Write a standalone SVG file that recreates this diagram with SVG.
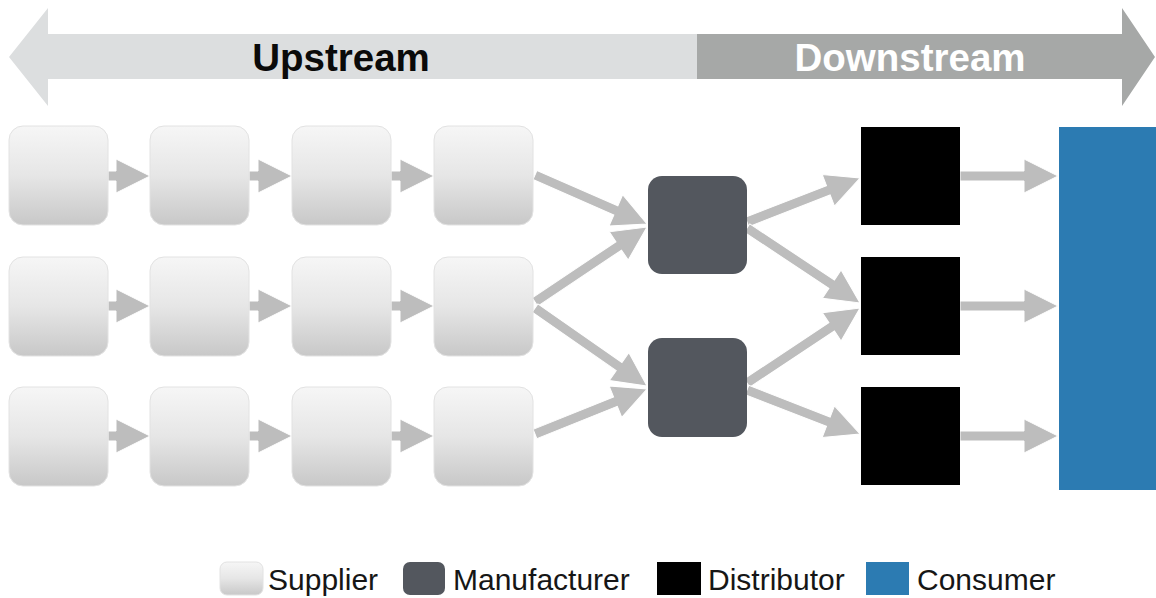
<svg xmlns="http://www.w3.org/2000/svg" width="1156" height="598" viewBox="0 0 1156 598">
  <defs>
    <linearGradient id="supGrad" x1="0" y1="0" x2="0" y2="1">
      <stop offset="0" stop-color="#f6f6f6"/>
      <stop offset="0.5" stop-color="#e6e6e6"/>
      <stop offset="1" stop-color="#c8c8c8"/>
    </linearGradient>
    <style>
      .sup { fill: url(#supGrad); stroke: #e2e2e2; stroke-width: 1; }
      .mfr { fill: #53575e; }
      .dist { fill: #000000; }
      .cons { fill: #2c7bb2; }
      .arr { fill: #bdbdbd; stroke: #ffffff; stroke-width: 1; stroke-linejoin: miter; }
      .band { font-family: "Liberation Sans", Arial, sans-serif; font-weight: bold; font-size: 38.5px; text-anchor: middle; }
      .leg { font-family: "Liberation Sans", Arial, sans-serif; font-size: 30px; fill: #161616; }
    </style>
  </defs>

  <rect width="1156" height="598" fill="#ffffff"/>

  <!-- Upstream / Downstream banner -->
  <g id="banner">
    <polygon points="9,57 48,8 48,34 697,34 697,79 48,79 48,106" fill="#dcdedf"/>
    <polygon points="697,34 1122,34 1122,8 1155,57 1122,106 1122,79 697,79" fill="#a6a8a7"/>
    <text class="band" x="341" y="71" fill="#0a0a0a">Upstream</text>
    <text class="band" x="910" y="71" fill="#ffffff">Downstream</text>
  </g>

  <!-- Connectors -->
  <g id="connectors">
    <!-- supplier chains -->
    <polygon class="arr" points="108,171 116,171 116,159 150,176 116,193 116,181 108,181"/>
    <polygon class="arr" points="249,171 258,171 258,159 292,176 258,193 258,181 249,181"/>
    <polygon class="arr" points="391,171 400,171 400,159 434,176 400,193 400,181 391,181"/>
    <polygon class="arr" points="108,301 116,301 116,289 150,306 116,323 116,311 108,311"/>
    <polygon class="arr" points="249,301 258,301 258,289 292,306 258,323 258,311 249,311"/>
    <polygon class="arr" points="391,301 400,301 400,289 434,306 400,323 400,311 391,311"/>
    <polygon class="arr" points="108,431 116,431 116,419 150,436 116,453 116,441 108,441"/>
    <polygon class="arr" points="249,431 258,431 258,419 292,436 258,453 258,441 249,441"/>
    <polygon class="arr" points="391,431 400,431 400,419 434,436 400,453 400,441 391,441"/>

    <!-- suppliers to manufacturers -->
    <polygon class="arr" transform="translate(535,175) rotate(23.63)" points="0,-5 88.25,-5 88.25,-17 122.25,0 88.25,17 88.25,5 0,5"/>
    <polygon class="arr" transform="translate(535,302) rotate(-33.81)" points="0,-5 100.79,-5 100.79,-17 134.79,0 100.79,17 100.79,5 0,5"/>
    <polygon class="arr" transform="translate(535,308) rotate(34.86)" points="0,-5 102.48,-5 102.48,-17 136.48,0 102.48,17 102.48,5 0,5"/>
    <polygon class="arr" transform="translate(535,434) rotate(-21.89)" points="0,-5 86.7,-5 86.7,-17 120.7,0 86.7,17 86.7,5 0,5"/>

    <!-- manufacturers to distributors -->
    <polygon class="arr" transform="translate(747,222) rotate(-21.27)" points="0,-5 87.26,-5 87.26,-17 121.26,0 87.26,17 87.26,5 0,5"/>
    <polygon class="arr" transform="translate(747,228) rotate(33.57)" points="0,-5 101.62,-5 101.62,-17 135.62,0 101.62,17 101.62,5 0,5"/>
    <polygon class="arr" transform="translate(747,383) rotate(-33.57)" points="0,-5 101.62,-5 101.62,-17 135.62,0 101.62,17 101.62,5 0,5"/>
    <polygon class="arr" transform="translate(747,390) rotate(21.27)" points="0,-5 87.26,-5 87.26,-17 121.26,0 87.26,17 87.26,5 0,5"/>

    <!-- distributors to consumer -->
    <polygon class="arr" points="960,171 1024,171 1024,159 1058,176 1024,193 1024,181 960,181"/>
    <polygon class="arr" points="960,301 1024,301 1024,289 1058,306 1024,323 1024,311 960,311"/>
    <polygon class="arr" points="960,431 1024,431 1024,419 1058,436 1024,453 1024,441 960,441"/>
  </g>

  <!-- Suppliers -->
  <g id="sup-1-1"><rect class="sup" x="9" y="126" width="99" height="99" rx="14"/></g>
  <g id="sup-1-2"><rect class="sup" x="150" y="126" width="99" height="99" rx="14"/></g>
  <g id="sup-1-3"><rect class="sup" x="292" y="126" width="99" height="99" rx="14"/></g>
  <g id="sup-1-4"><rect class="sup" x="434" y="126" width="99" height="99" rx="14"/></g>
  <g id="sup-2-1"><rect class="sup" x="9" y="257" width="99" height="99" rx="14"/></g>
  <g id="sup-2-2"><rect class="sup" x="150" y="257" width="99" height="99" rx="14"/></g>
  <g id="sup-2-3"><rect class="sup" x="292" y="257" width="99" height="99" rx="14"/></g>
  <g id="sup-2-4"><rect class="sup" x="434" y="257" width="99" height="99" rx="14"/></g>
  <g id="sup-3-1"><rect class="sup" x="9" y="387" width="99" height="99" rx="14"/></g>
  <g id="sup-3-2"><rect class="sup" x="150" y="387" width="99" height="99" rx="14"/></g>
  <g id="sup-3-3"><rect class="sup" x="292" y="387" width="99" height="99" rx="14"/></g>
  <g id="sup-3-4"><rect class="sup" x="434" y="387" width="99" height="99" rx="14"/></g>

  <!-- Manufacturers -->
  <g id="mfr-1"><rect class="mfr" x="648" y="176" width="99" height="98" rx="14"/></g>
  <g id="mfr-2"><rect class="mfr" x="648" y="338" width="99" height="99" rx="14"/></g>

  <!-- Distributors -->
  <g id="dist-1"><rect class="dist" x="861" y="127" width="99" height="98"/></g>
  <g id="dist-2"><rect class="dist" x="861" y="257" width="99" height="98"/></g>
  <g id="dist-3"><rect class="dist" x="861" y="387" width="99" height="98"/></g>

  <!-- Consumer -->
  <g id="consumer"><rect class="cons" x="1059" y="127" width="97" height="363"/></g>

  <!-- Legend -->
  <g id="legend">
    <rect class="sup" x="220" y="562" width="43" height="33" rx="7"/>
    <text class="leg" x="268" y="590">Supplier</text>
    <rect class="mfr" x="403" y="562" width="42" height="33" rx="7"/>
    <text class="leg" x="453" y="590">Manufacturer</text>
    <rect class="dist" x="657" y="562" width="44" height="33"/>
    <text class="leg" x="708" y="590">Distributor</text>
    <rect class="cons" x="866" y="562" width="43" height="33"/>
    <text class="leg" x="917" y="590">Consumer</text>
  </g>
</svg>
